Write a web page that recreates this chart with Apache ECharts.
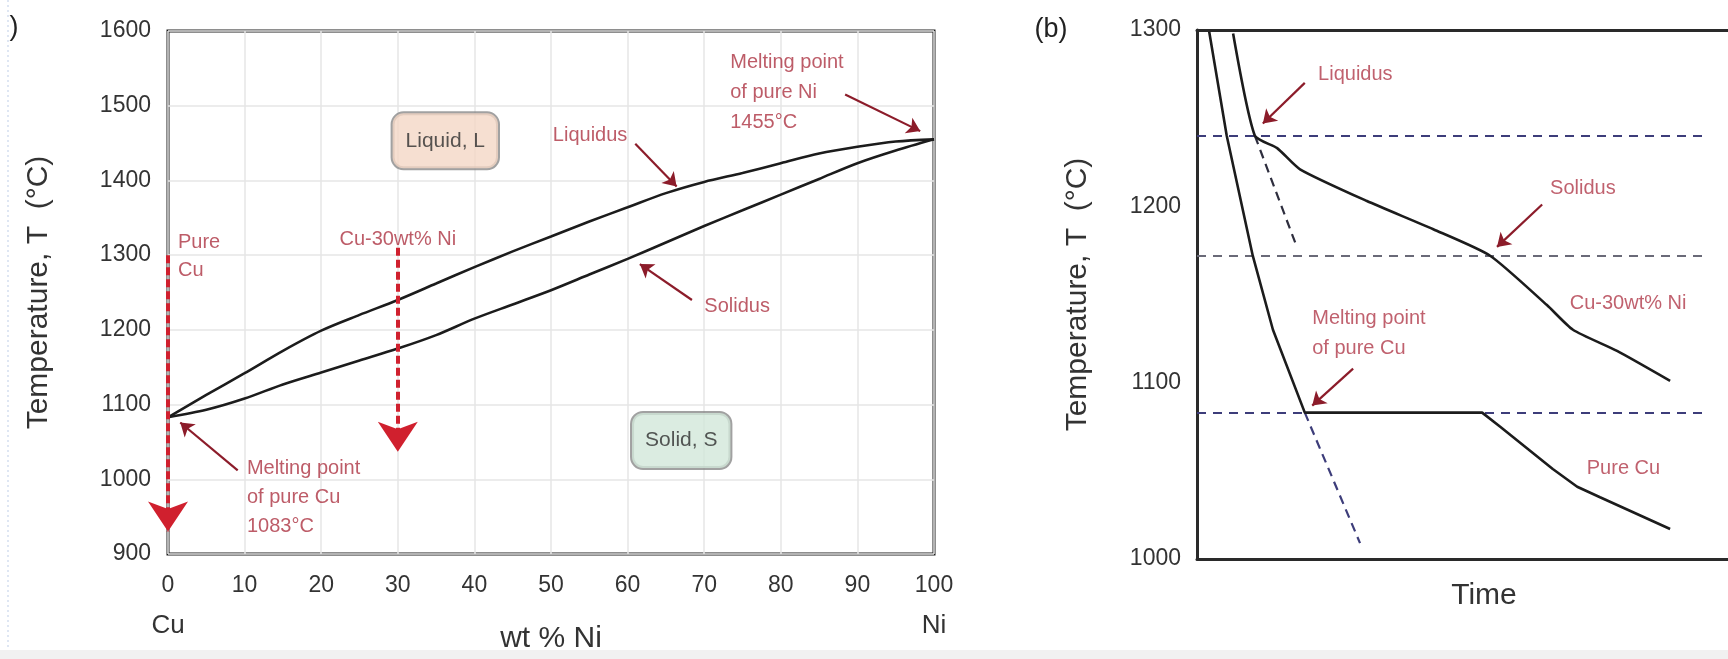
<!DOCTYPE html>
<html>
<head>
<meta charset="utf-8">
<script src="https://cdn.jsdelivr.net/npm/echarts@6/dist/echarts.min.js"></script>
<style>
  html, body { margin: 0; padding: 0; background: #ffffff; }
  #chart { width: 1728px; height: 659px; }
</style>
</head>
<body>
<div id="chart"></div>
<script>
// ---- (a) Cu–Ni phase diagram ----
const wtNi = [0, 5, 10, 15, 20, 25, 30, 35, 40, 45, 50, 55, 60, 65, 70, 75, 80, 85, 90, 95, 100];
const liquidusT = [1083, 1113, 1142, 1172, 1199, 1220, 1240, 1262, 1284, 1305, 1325, 1345, 1364, 1383, 1398, 1410, 1423, 1436, 1445, 1452, 1455];
const solidusT  = [1083, 1093, 1108, 1127, 1143, 1159, 1175, 1193, 1215, 1234, 1253, 1274, 1295, 1317, 1339, 1360, 1381, 1402, 1423, 1440, 1455];
const phaseTempRange = [900, 1600];
const compositionRange = [0, 100];
const meltCu = 1083;
const meltNi = 1455;

// ---- (b) cooling curves (time in arbitrary units, 0–100) ----
const coolTempRange = [1000, 1300];
const timeRange = [0, 100];
const pureCuTime = [2.3, 5.6, 10.5, 14.3, 20.3, 53.7, 57.1, 67.0, 71.6, 75.9, 89.1];
const pureCuTemp = [1299, 1240, 1172, 1130, 1083, 1083, 1075, 1051, 1041, 1035, 1017];
const alloyTime = [6.8, 10.9, 15.1, 19.4, 32.0, 44.5, 55.2, 65.9, 70.8, 79.1, 89.1];
const alloyTemp = [1298, 1240, 1233, 1221, 1203, 1187, 1172, 1144, 1130, 1118, 1101];
const alloyExtTime = [10.9, 18.8];
const alloyExtTemp = [1240, 1177];
const pureCuExtTime = [20.3, 30.7];
const pureCuExtTemp = [1083, 1009];
const refTemps = [1240, 1172, 1083];
const refColors = ['#3d3d7a', '#6a6a78', '#3d3d7a'];
const refTimeSpan = [0, 95.9];

const FONT = '"Liberation Sans", Arial, Helvetica, sans-serif';
const RED_TEXT = '#ad3342';
const ARROW_RED = '#8c1c2a';
const INK = '#1c1c1c';
const FRAME = { show: true, lineStyle: { color: '#2a2a2a', width: 3 } };

const zip = (xs, ys) => xs.map((x, i) => [x, ys[i]]);
const plain = v => String(v);

function note(x, y, text, extra) {
  return {
    value: [x, y],
    label: Object.assign({
      show: true, formatter: text, position: 'inside',
      align: 'left', verticalAlign: 'middle',
      fontFamily: FONT, fontSize: 20, color: RED_TEXT, lineHeight: 29
    }, extra || {})
  };
}

function noteSeries(idx, items) {
  return {
    type: 'scatter', xAxisIndex: idx, yAxisIndex: idx,
    symbolSize: 1, itemStyle: { color: 'rgba(0,0,0,0)' },
    silent: true, z: 10, data: items
  };
}

function arrowSeries(idx, segs, style, size) {
  return {
    type: 'lines', coordinateSystem: 'cartesian2d', xAxisIndex: idx, yAxisIndex: idx,
    symbol: ['none', 'arrow'], symbolSize: size, silent: true, z: 8, clip: false,
    lineStyle: style,
    data: segs.map(s => ({ coords: s }))
  };
}

const axisLabelStyle = { fontFamily: FONT, fontSize: 23, color: '#333', formatter: plain };
const axisNameStyle = { fontFamily: FONT, fontSize: 30, color: '#333' };

const chart = echarts.init(document.getElementById('chart'), null, { renderer: 'canvas' });

const option = {
  backgroundColor: '#ffffff',
  animation: false,
  grid: [
    { left: 168, top: 31, width: 766, height: 529, show: true, borderColor: '#1e1e1e', borderWidth: 3 },
    // right panel is open on the right: frame drawn by its axis lines
    { left: 1197, top: 30, right: 0, height: 529 }
  ],
  xAxis: [
    {
      gridIndex: 0, type: 'value', min: compositionRange[0], max: compositionRange[1], interval: 10,
      axisLine: { show: false }, axisTick: { show: false },
      splitLine: { show: true, lineStyle: { color: '#e6e6e6', width: 1.5 } },
      axisLabel: Object.assign({ margin: 20 }, axisLabelStyle),
      name: 'wt % Ni', nameLocation: 'middle', nameGap: 70, nameTextStyle: axisNameStyle
    },
    {
      gridIndex: 1, type: 'value', min: timeRange[0], max: timeRange[1], position: 'bottom',
      axisLine: FRAME, axisTick: { show: false },
      splitLine: { show: false }, axisLabel: { show: false },
      name: 'Time', nameLocation: 'middle', nameGap: 22,
      nameTextStyle: Object.assign({ padding: [0, 0, 0, 43] }, axisNameStyle)
    },
    {
      gridIndex: 1, type: 'value', min: timeRange[0], max: timeRange[1], position: 'top',
      axisLine: FRAME, axisTick: { show: false },
      splitLine: { show: false }, axisLabel: { show: false }
    }
  ],
  yAxis: [
    {
      gridIndex: 0, type: 'value', min: phaseTempRange[0], max: phaseTempRange[1], interval: 100,
      axisLine: { show: false }, axisTick: { show: false },
      splitLine: { show: true, lineStyle: { color: '#e6e6e6', width: 1.5 } },
      axisLabel: Object.assign({ margin: 17 }, axisLabelStyle),
      name: 'Temperature, T  (°C)', nameLocation: 'middle', nameGap: 114, nameTextStyle: axisNameStyle
    },
    {
      gridIndex: 1, type: 'value', min: coolTempRange[0], max: coolTempRange[1], interval: 100,
      axisLine: FRAME, axisTick: { show: false },
      splitLine: { show: false },
      axisLabel: Object.assign({ margin: 16 }, axisLabelStyle),
      name: 'Temperature, T  (°C)', nameLocation: 'middle', nameGap: 104, nameTextStyle: axisNameStyle
    }
  ],
  series: [
    // phase boundaries
    {
      name: 'Liquidus', type: 'line', xAxisIndex: 0, yAxisIndex: 0, smooth: 0.3,
      showSymbol: false, silent: true, data: zip(wtNi, liquidusT),
      lineStyle: { color: INK, width: 2.6 }
    },
    {
      name: 'Solidus', type: 'line', xAxisIndex: 0, yAxisIndex: 0, smooth: 0.3,
      showSymbol: false, silent: true, data: zip(wtNi, solidusT),
      lineStyle: { color: INK, width: 2.6 }
    },
    // cooling paths for pure Cu and Cu-30wt% Ni
    arrowSeries(0, [[[0, 1300], [0, 930]], [[30, 1310], [30, 1037]]],
      { color: '#d0202e', width: 4, type: [8, 4], opacity: 1 }, [20, 30]),
    // pointer arrows in (a)
    arrowSeries(0, [
      [[61.0, 1449], [66.4, 1392]],
      [[68.4, 1240], [61.6, 1288]],
      [[88.4, 1515], [98.2, 1466]],
      [[9.1, 1012], [1.6, 1076]]
    ], { color: ARROW_RED, width: 2.2, opacity: 1 }, 13),
    noteSeries(0, [
      note(1.3, 1298, 'Pure\nCu', { lineHeight: 28 }),
      note(30, 1321, 'Cu-30wt% Ni', { align: 'center' }),
      note(55.1, 1460, 'Liquidus', { align: 'center' }),
      note(74.3, 1231, 'Solidus', { align: 'center' }),
      note(73.4, 1518, 'Melting point\nof pure Ni\n' + meltNi + '°C', { lineHeight: 30 }),
      note(10.3, 975, 'Melting point\nof pure Cu\n' + meltCu + '°C', { lineHeight: 29 }),
      note(36.2, 1453, 'Liquid, L', {
        align: 'center', color: '#2e2e2e', fontSize: 21,
        backgroundColor: '#f4d7c6', borderColor: '#8a8a8a', borderWidth: 2,
        borderRadius: 11, padding: [13, 13, 13, 13]
      }),
      note(67, 1052, 'Solid, S', {
        align: 'center', color: '#2e2e2e', fontSize: 21,
        backgroundColor: '#d2e7da', borderColor: '#8a8a8a', borderWidth: 2,
        borderRadius: 11, padding: [13, 13, 13, 13]
      })
    ]),

    // ---- (b) ----
    {
      type: 'lines', coordinateSystem: 'cartesian2d', xAxisIndex: 1, yAxisIndex: 1,
      silent: true, z: 3,
      data: refTemps.map((t, i) => ({
        coords: [[refTimeSpan[0], t], [refTimeSpan[1], t]],
        lineStyle: { color: refColors[i], width: 2.2, type: [9, 7], opacity: 1 }
      }))
    },
    {
      name: 'Pure Cu', type: 'line', xAxisIndex: 1, yAxisIndex: 1, showSymbol: false, silent: true,
      data: zip(pureCuTime, pureCuTemp), lineStyle: { color: INK, width: 2.6 }, z: 5
    },
    {
      name: 'Cu-30wt% Ni', type: 'line', xAxisIndex: 1, yAxisIndex: 1, showSymbol: false, silent: true,
      smooth: 0.2, data: zip(alloyTime, alloyTemp), lineStyle: { color: INK, width: 2.6 }, z: 5
    },
    {
      type: 'line', xAxisIndex: 1, yAxisIndex: 1, showSymbol: false, silent: true,
      data: zip(alloyExtTime, alloyExtTemp), lineStyle: { color: '#2e2e3e', width: 2.2, type: [9, 6] }, z: 4
    },
    {
      type: 'line', xAxisIndex: 1, yAxisIndex: 1, showSymbol: false, silent: true,
      data: zip(pureCuExtTime, pureCuExtTemp), lineStyle: { color: '#3d3d7a', width: 2.2, type: [9, 6] }, z: 4
    },
    arrowSeries(1, [
      [[20.3, 1270], [12.4, 1247]],
      [[65.0, 1201], [56.5, 1177]],
      [[29.4, 1108], [21.7, 1087]]
    ], { color: ARROW_RED, width: 2.2, opacity: 1 }, 13),
    noteSeries(1, [
      note(22.8, 1274.5, 'Liquidus', { color: '#b03a4a' }),
      note(66.5, 1210, 'Solidus', { color: '#b03a4a' }),
      note(70.2, 1145, 'Cu-30wt% Ni', { color: '#b03a4a' }),
      note(21.7, 1128, 'Melting point\nof pure Cu', { color: '#b03a4a', lineHeight: 30 }),
      note(73.4, 1051.6, 'Pure Cu', { color: '#b03a4a' })
    ])
  ]
};

chart.setOption(option);

// Composition end labels and panel tags
const cuPos = chart.convertToPixel({ gridIndex: 0 }, [compositionRange[0], phaseTempRange[0]]);
const niPos = chart.convertToPixel({ gridIndex: 0 }, [compositionRange[1], phaseTempRange[0]]);
const endLabel = (p, text) => ({
  type: 'text', x: p[0], y: p[1] + 72,
  style: { text: text, font: '26px ' + FONT, fill: '#333', align: 'center', verticalAlign: 'middle' }
});
chart.setOption({
  graphic: [
    { type: 'rect', shape: { x: 0, y: 650, width: 1728, height: 9 }, style: { fill: '#f1f1f1' }, silent: true },
    { type: 'line', shape: { x1: 8, y1: 0, x2: 8, y2: 650 }, style: { stroke: '#d3def0', lineWidth: 1.5, lineDash: [2, 3] }, silent: true },
    endLabel(cuPos, 'Cu'),
    endLabel(niPos, 'Ni'),
    { type: 'text', x: 14, y: 28, style: { text: ')', font: '27px ' + FONT, fill: '#222', align: 'center', verticalAlign: 'middle' } },
    { type: 'text', x: 1051, y: 30, style: { text: '(b)', font: '27px ' + FONT, fill: '#222', align: 'center', verticalAlign: 'middle' } }
  ]
});
</script>
</body>
</html>
